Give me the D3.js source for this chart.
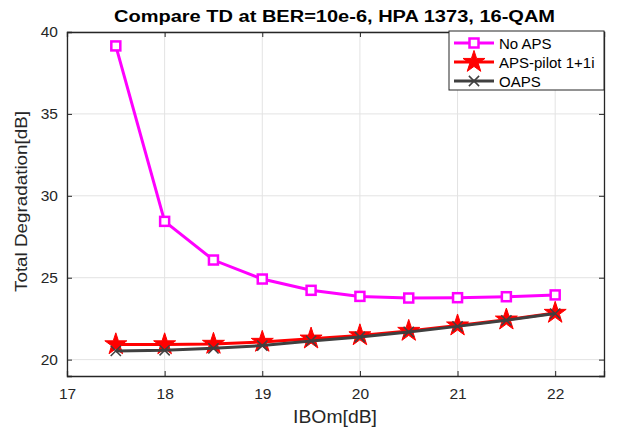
<!DOCTYPE html>
<html>
<head>
<meta charset="utf-8">
<script src="https://cdn.jsdelivr.net/npm/d3@7"></script>
<style>
  body { margin: 0; background: #fff; }
  svg { display: block; font-family: "Liberation Sans", Arial, sans-serif; }
</style>
</head>
<body>
<svg id="vis" width="617" height="428"></svg>
<script>
// data
const ibo = [17.5, 18, 18.5, 19, 19.5, 20, 20.5, 21, 21.5, 22];
const noAPS = [39.15, 28.44, 26.08, 24.92, 24.23, 23.86, 23.76, 23.78, 23.84, 23.95];
const apsPilot = [20.93, 20.93, 20.96, 21.08, 21.28, 21.48, 21.75, 22.08, 22.44, 22.85];
const oaps = [20.53, 20.57, 20.69, 20.86, 21.14, 21.38, 21.69, 22.03, 22.40, 22.81];
const xTicks = [17, 18, 19, 20, 21, 22];
const yTicks = [20, 25, 30, 35, 40];

const svg = d3.select('#vis');
const margin = {left: 67, right: 13, top: 32, bottom: 52};
const WIDTH = 617, HEIGHT = 428;

const x = d3.scaleLinear().domain([17, 22.5]).range([margin.left, WIDTH - margin.right]);
const y = d3.scaleLinear().domain([19, 40]).range([HEIGHT - margin.bottom, margin.top]);

const series = [
    {name: "No APS", values: noAPS, color: "#ff00ff", marker: "square"},
    {name: "APS-pilot 1+1i", values: apsPilot, color: "#ff0000", marker: "star"},
    {name: "OAPS", values: oaps, color: "#404040", marker: "cross"}
];

// grid
svg.append('g')
    .selectAll('line')
    .data(xTicks)
    .enter().append('line')
    .attr('x1', d => x(d)).attr('x2', d => x(d))
    .attr('y1', y(19)).attr('y2', y(40))
    .attr('stroke', '#e3e3e3').attr('stroke-width', 1);

svg.append('g')
    .selectAll('line')
    .data(yTicks)
    .enter().append('line')
    .attr('y1', d => y(d)).attr('y2', d => y(d))
    .attr('x1', x(17)).attr('x2', x(22.5))
    .attr('stroke', '#e3e3e3').attr('stroke-width', 1);

// axes
const fmt = d3.format('d');
const xAxis = svg.append('g')
    .attr('transform', 'translate(0,' + y(19) + ')')
    .call(d3.axisBottom(x).tickValues(xTicks).tickFormat(fmt).tickSize(-5).tickPadding(12));
const xAxisTop = svg.append('g')
    .attr('transform', 'translate(0,' + y(40) + ')')
    .call(d3.axisTop(x).tickValues(xTicks).tickSize(-5).tickFormat(''));
const yAxis = svg.append('g')
    .attr('transform', 'translate(' + x(17) + ',0)')
    .call(d3.axisLeft(y).tickValues(yTicks).tickFormat(fmt).tickSize(-5).tickPadding(9));
const yAxisRight = svg.append('g')
    .attr('transform', 'translate(' + x(22.5) + ',0)')
    .call(d3.axisRight(y).tickValues(yTicks).tickSize(-5).tickFormat(''));

[xAxis, xAxisTop, yAxis, yAxisRight].forEach(function (a) {
    a.select('.domain').attr('stroke', '#262626').attr('stroke-width', 1.3);
    a.selectAll('.tick line').attr('stroke', '#262626');
    a.selectAll('text').attr('fill', '#262626').attr('font-size', '15.5px')
        .attr('font-family', '"Liberation Sans", Arial, sans-serif');
});

// lines
const line = d3.line()
    .x((d, i) => x(ibo[i]))
    .y(d => y(d));

const starPath = d3.symbol().type(d3.symbolStar).size(150)();
const crossPath = d3.symbol().type(d3.symbolX).size(70)();

function drawMarker(g, s, cx, cy) {
    if (s.marker === "square") {
        g.append('rect')
            .attr('x', cx - 4.5).attr('y', cy - 4.5)
            .attr('width', 9).attr('height', 9)
            .attr('fill', '#fff').attr('stroke', s.color).attr('stroke-width', 2.5);
    } else if (s.marker === "star") {
        g.append('path').attr('d', starPath)
            .attr('transform', 'translate(' + cx + ',' + cy + ')')
            .attr('fill', s.color).attr('stroke', s.color).attr('stroke-width', 1);
    } else {
        g.append('path').attr('d', crossPath)
            .attr('transform', 'translate(' + cx + ',' + cy + ')')
            .attr('fill', s.color).attr('stroke', s.color).attr('stroke-width', 1.5);
    }
}

series.forEach(function (s) {
    const g = svg.append('g');
    g.append('path')
        .datum(s.values)
        .attr('d', line)
        .attr('fill', 'none')
        .attr('stroke', s.color)
        .attr('stroke-width', 3);
    s.values.forEach(function (v, i) {
        drawMarker(g, s, x(ibo[i]), y(v));
    });
});

// title and labels
svg.append('text')
    .attr('x', 114).attr('y', 22)
    .attr('font-size', '16px').attr('font-weight', 'bold')
    .attr('textLength', 441).attr('lengthAdjust', 'spacingAndGlyphs')
    .attr('fill', '#000')
    .text('Compare TD at BER=10e-6, HPA 1373, 16-QAM');

svg.append('text')
    .attr('x', 293).attr('y', 423)
    .attr('font-size', '17.5px').attr('fill', '#262626')
    .attr('textLength', 84).attr('lengthAdjust', 'spacingAndGlyphs')
    .text('IBOm[dB]');

svg.append('text')
    .attr('transform', 'translate(27,292) rotate(-90)')
    .attr('font-size', '16.5px').attr('fill', '#262626')
    .attr('textLength', 181).attr('lengthAdjust', 'spacingAndGlyphs')
    .text('Total Degradation[dB]');

// legend
const lg = svg.append('g').attr('transform', 'translate(449,31)');
lg.append('rect')
    .attr('width', 155).attr('height', 59)
    .attr('fill', '#fff').attr('stroke', '#262626').attr('stroke-width', 1);
series.forEach(function (s, i) {
    const ly = 12 + i * 19;
    lg.append('line')
        .attr('x1', 5).attr('x2', 45)
        .attr('y1', ly).attr('y2', ly)
        .attr('stroke', s.color).attr('stroke-width', 3);
    drawMarker(lg, s, 25, ly);
    lg.append('text')
        .attr('x', 50).attr('y', ly + 5.5)
        .attr('font-size', '15px').attr('fill', '#000')
        .text(s.name);
});
</script>
</body>
</html>
